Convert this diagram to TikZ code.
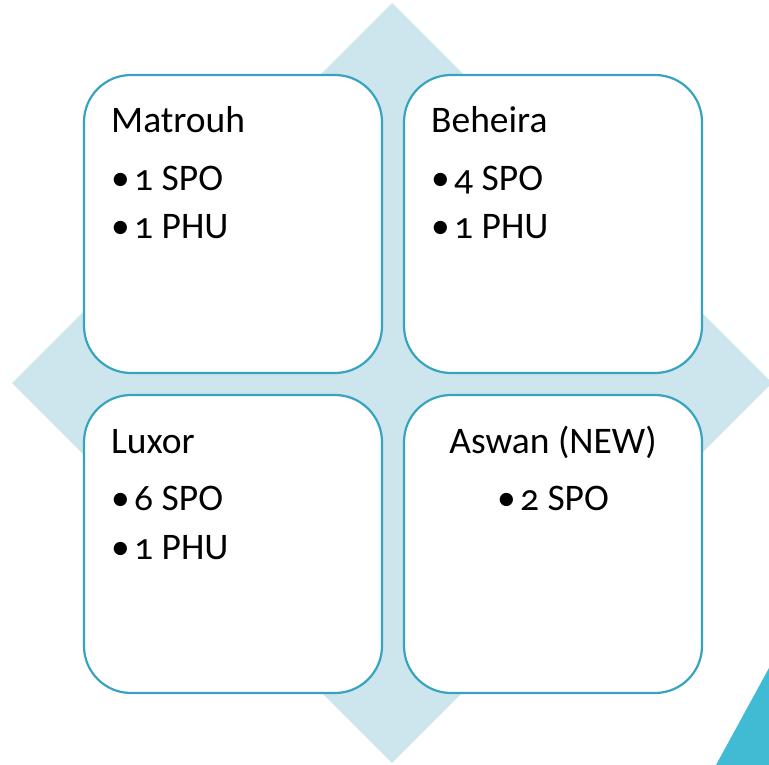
\documentclass[tikz,border=0pt]{standalone}
\usepackage{fontspec}
\setmainfont[Numbers=OldStyle]{Carlito}
\definecolor{diamc}{HTML}{CDE6EE}
\definecolor{edgec}{HTML}{38A3BF}
\definecolor{tric}{HTML}{41BAD3}
\newcommand{\bul}{\makebox[23pt][l]{\textbullet}}
\begin{document}
\begin{tikzpicture}[x=1pt,y=-1pt,
  box/.style={draw=edgec,line width=2.2pt,fill=white,rounded corners=47pt,minimum width=298pt,minimum height=298pt,inner sep=0pt},
  txt/.style={font=\fontsize{37.5}{44}\selectfont,inner sep=0pt,text=black}]
\useasboundingbox (0,0) rectangle (769,765);
\fill[diamc] (392,3) -- (772,383) -- (392,763) -- (12,383) -- cycle;
\fill[tric] (769,668) -- (716,765) -- (769,765) -- cycle;
\node[box] (bm) at (233,224) {};
\node[box] (bb) at (553,224) {};
\node[box] (bl) at (233,544) {};
\node[box] (ba) at (553,544) {};
% Matrouh
\node[txt,anchor=base west] (tm) at (111,133) {Matrouh};
\node[txt,anchor=base west] (tm1) at (111,190) {\bul1 SPO};
\node[txt,anchor=base west] (tm2) at (111,239) {\bul1 PHU};
% Beheira
\node[txt,anchor=base west] (tb) at (431,133) {Beheira};
\node[txt,anchor=base west] (tb1) at (431,190) {\bul4 SPO};
\node[txt,anchor=base west] (tb2) at (431,239) {\bul1 PHU};
% Luxor
\node[txt,anchor=base west] (tl) at (111,453) {Luxor};
\node[txt,anchor=base west] (tl1) at (111,510) {\bul6 SPO};
\node[txt,anchor=base west] (tl2) at (111,559) {\bul1 PHU};
% Aswan
\node[txt,anchor=base] (ta) at (553,453) {Aswan (NEW)};
\node[txt,anchor=base] (ta1) at (553,510) {\bul2 SPO};
\end{tikzpicture}
\end{document}
